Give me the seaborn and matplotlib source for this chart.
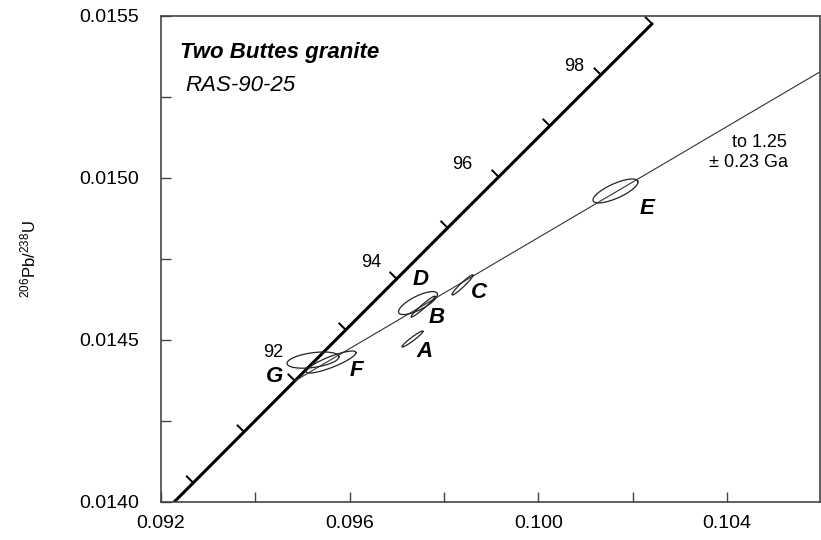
import numpy as np
import pandas as pd
import matplotlib
matplotlib.use("Agg")
import matplotlib.pyplot as plt
import seaborn as sns

# U decay constants (per year)
LAMBDA_238 = 1.55125e-10
LAMBDA_235 = 9.8485e-10

# Zircon fractions: 207Pb/235U, 206Pb/238U, 2-sigma half-widths and error correlation
spots = ["A", "B", "C", "D", "E", "F", "G"]
pb207_u235 = [0.097332, 0.097555, 0.098392, 0.097449, 0.101636, 0.095604, 0.095223]
pb206_u238 = [0.014503, 0.014603, 0.014670, 0.014614, 0.014960, 0.014432, 0.014438]
err_207_235 = [0.000223, 0.000254, 0.000223, 0.000413, 0.000477, 0.000530, 0.000551]
err_206_238 = [0.0000247, 0.0000324, 0.0000309, 0.0000355, 0.0000370, 0.0000340, 0.0000250]
err_rho = [0.96, 0.97, 0.96, 0.75, 0.75, 0.85, 0.40]

# spot label positions (207/235, 206/238)
label_x = [0.097597, 0.097852, 0.098742, 0.097512, 0.102304, 0.096134, 0.094417]
label_y = [0.014463, 0.014568, 0.014648, 0.014688, 0.014907, 0.014407, 0.014386]

# Concordia age marks (Ma) and labelled ages
tick_ages = [90, 91, 92, 93, 94, 95, 96, 97, 98, 99]
labelled_ages = [92, 94, 96, 98]
age_label_offsets = [(-22, 28), (-25, 16), (-36, 12), (-27, 8)]  # pixels

# Discordia intercepts (Ma)
lower_intercept = 92.0
upper_intercept = 1250.0

x_ticks = [0.092, 0.096, 0.100, 0.104]
x_minor = [0.094, 0.098, 0.102]
y_ticks = [0.0140, 0.0145, 0.0150, 0.0155]
y_minor = [0.01425, 0.01475, 0.01525]


def concordia(t_ma):
    t = np.asarray(t_ma, dtype=float) * 1e6
    return np.expm1(LAMBDA_235 * t), np.expm1(LAMBDA_238 * t)


def error_ellipse(cx, cy, sx, sy, rho, n=200):
    a = np.linspace(0, 2 * np.pi, n)
    ex = cx + sx * np.cos(a)
    ey = cy + sy * (rho * np.cos(a) + np.sqrt(1 - rho ** 2) * np.sin(a))
    return ex, ey


sns.set_theme(style="white")
plt.rcParams["font.family"] = ["Liberation Sans", "DejaVu Sans"]
plt.rcParams["mathtext.fontset"] = "custom"
plt.rcParams["mathtext.rm"] = "Liberation Sans"
plt.rcParams["mathtext.it"] = "Liberation Sans:italic"
for key in ["text.color", "axes.labelcolor", "xtick.color", "ytick.color"]:
    plt.rcParams[key] = "black"

fig = plt.figure(figsize=(8.21, 5.40), dpi=100)
ax = fig.add_axes([161 / 821, 38 / 540, 659 / 821, 486 / 540])
ax.set_xlim(0.092, 0.105972)
ax.set_ylim(0.0140, 0.0155)

# Concordia curve
t_curve = np.linspace(89.5, 99.0, 300)
cx, cy = concordia(t_curve)
conc = pd.DataFrame({"x": cx, "y": cy})
sns.lineplot(data=conc, x="x", y="y", sort=False, estimator=None,
             color="black", lw=2.2, ax=ax)

# Age marks perpendicular to the curve, on its upper-left side
for age in tick_ages:
    p = ax.transData.transform(np.column_stack(concordia(age)))[0]
    q = ax.transData.transform(np.column_stack(concordia(age + 0.01)))[0]
    d = (q - p) / np.hypot(*(q - p))
    nvec = np.array([-d[1], d[0]])
    end = ax.transData.inverted().transform(p + nvec * 10)
    ax.plot([concordia(age)[0], end[0]], [concordia(age)[1], end[1]],
            color="black", lw=1.4, solid_capstyle="butt")

for age, (dx, dy) in zip(labelled_ages, age_label_offsets):
    ax.annotate(str(age), xy=concordia(age), xytext=(dx, dy),
                textcoords="offset pixels", ha="center", va="center",
                fontsize=13, color="black")

# Discordia line
x0, y0 = concordia(lower_intercept)
x1, y1 = concordia(upper_intercept)
slope = (y1 - y0) / (x1 - x0)
disc_x = np.array([x0, 0.107])
disc_y = y0 + slope * (disc_x - x0)
sns.lineplot(x=disc_x, y=disc_y, sort=False, estimator=None,
             color="#333333", lw=0.8, ax=ax)

# Error ellipses
for i, name in enumerate(spots):
    ex, ey = error_ellipse(pb207_u235[i], pb206_u238[i], err_207_235[i],
                           err_206_238[i], err_rho[i])
    ax.plot(ex, ey, color="#222222", lw=0.9)
    ax.text(label_x[i], label_y[i], name, fontsize=16, fontweight="bold",
            fontstyle="italic", ha="center", va="center")

ax.text(0.104678, 0.015111, "to 1.25", fontsize=13, ha="center", va="center")
ax.text(0.105293, 0.015049, "\u00b1 0.23 Ga", fontsize=13, ha="right", va="center")

ax.text(0.0924, 0.015386, "Two Buttes granite", fontsize=16, fontweight="bold",
        fontstyle="italic", ha="left", va="center")
ax.text(0.09252, 0.015287, "RAS-90-25", fontsize=16, fontstyle="italic",
        ha="left", va="center")

# Axes
ax.set_xticks(x_ticks)
ax.set_xticklabels([f"{v:.3f}" for v in x_ticks])
ax.set_xticks(x_minor, minor=True)
ax.set_yticks(y_ticks)
ax.set_yticklabels([f"{v:.4f}" for v in y_ticks])
ax.set_yticks(y_minor, minor=True)
ax.tick_params(axis="both", which="both", direction="in", length=7, width=1,
               color="#444444", labelsize=14, top=False, right=False,
               bottom=True, left=True)
ax.tick_params(axis="x", which="major", pad=9)
ax.tick_params(axis="y", which="major", pad=16)
ax.set_xlabel("")
ax.set_ylabel(r"$^{206}$Pb/$^{238}$U", fontsize=12)
ax.yaxis.set_label_coords(-0.186, 0.5)
for s in ax.spines.values():
    s.set_color("#444444")
    s.set_linewidth(1.2)

fig.savefig("out.png", dpi=100)
